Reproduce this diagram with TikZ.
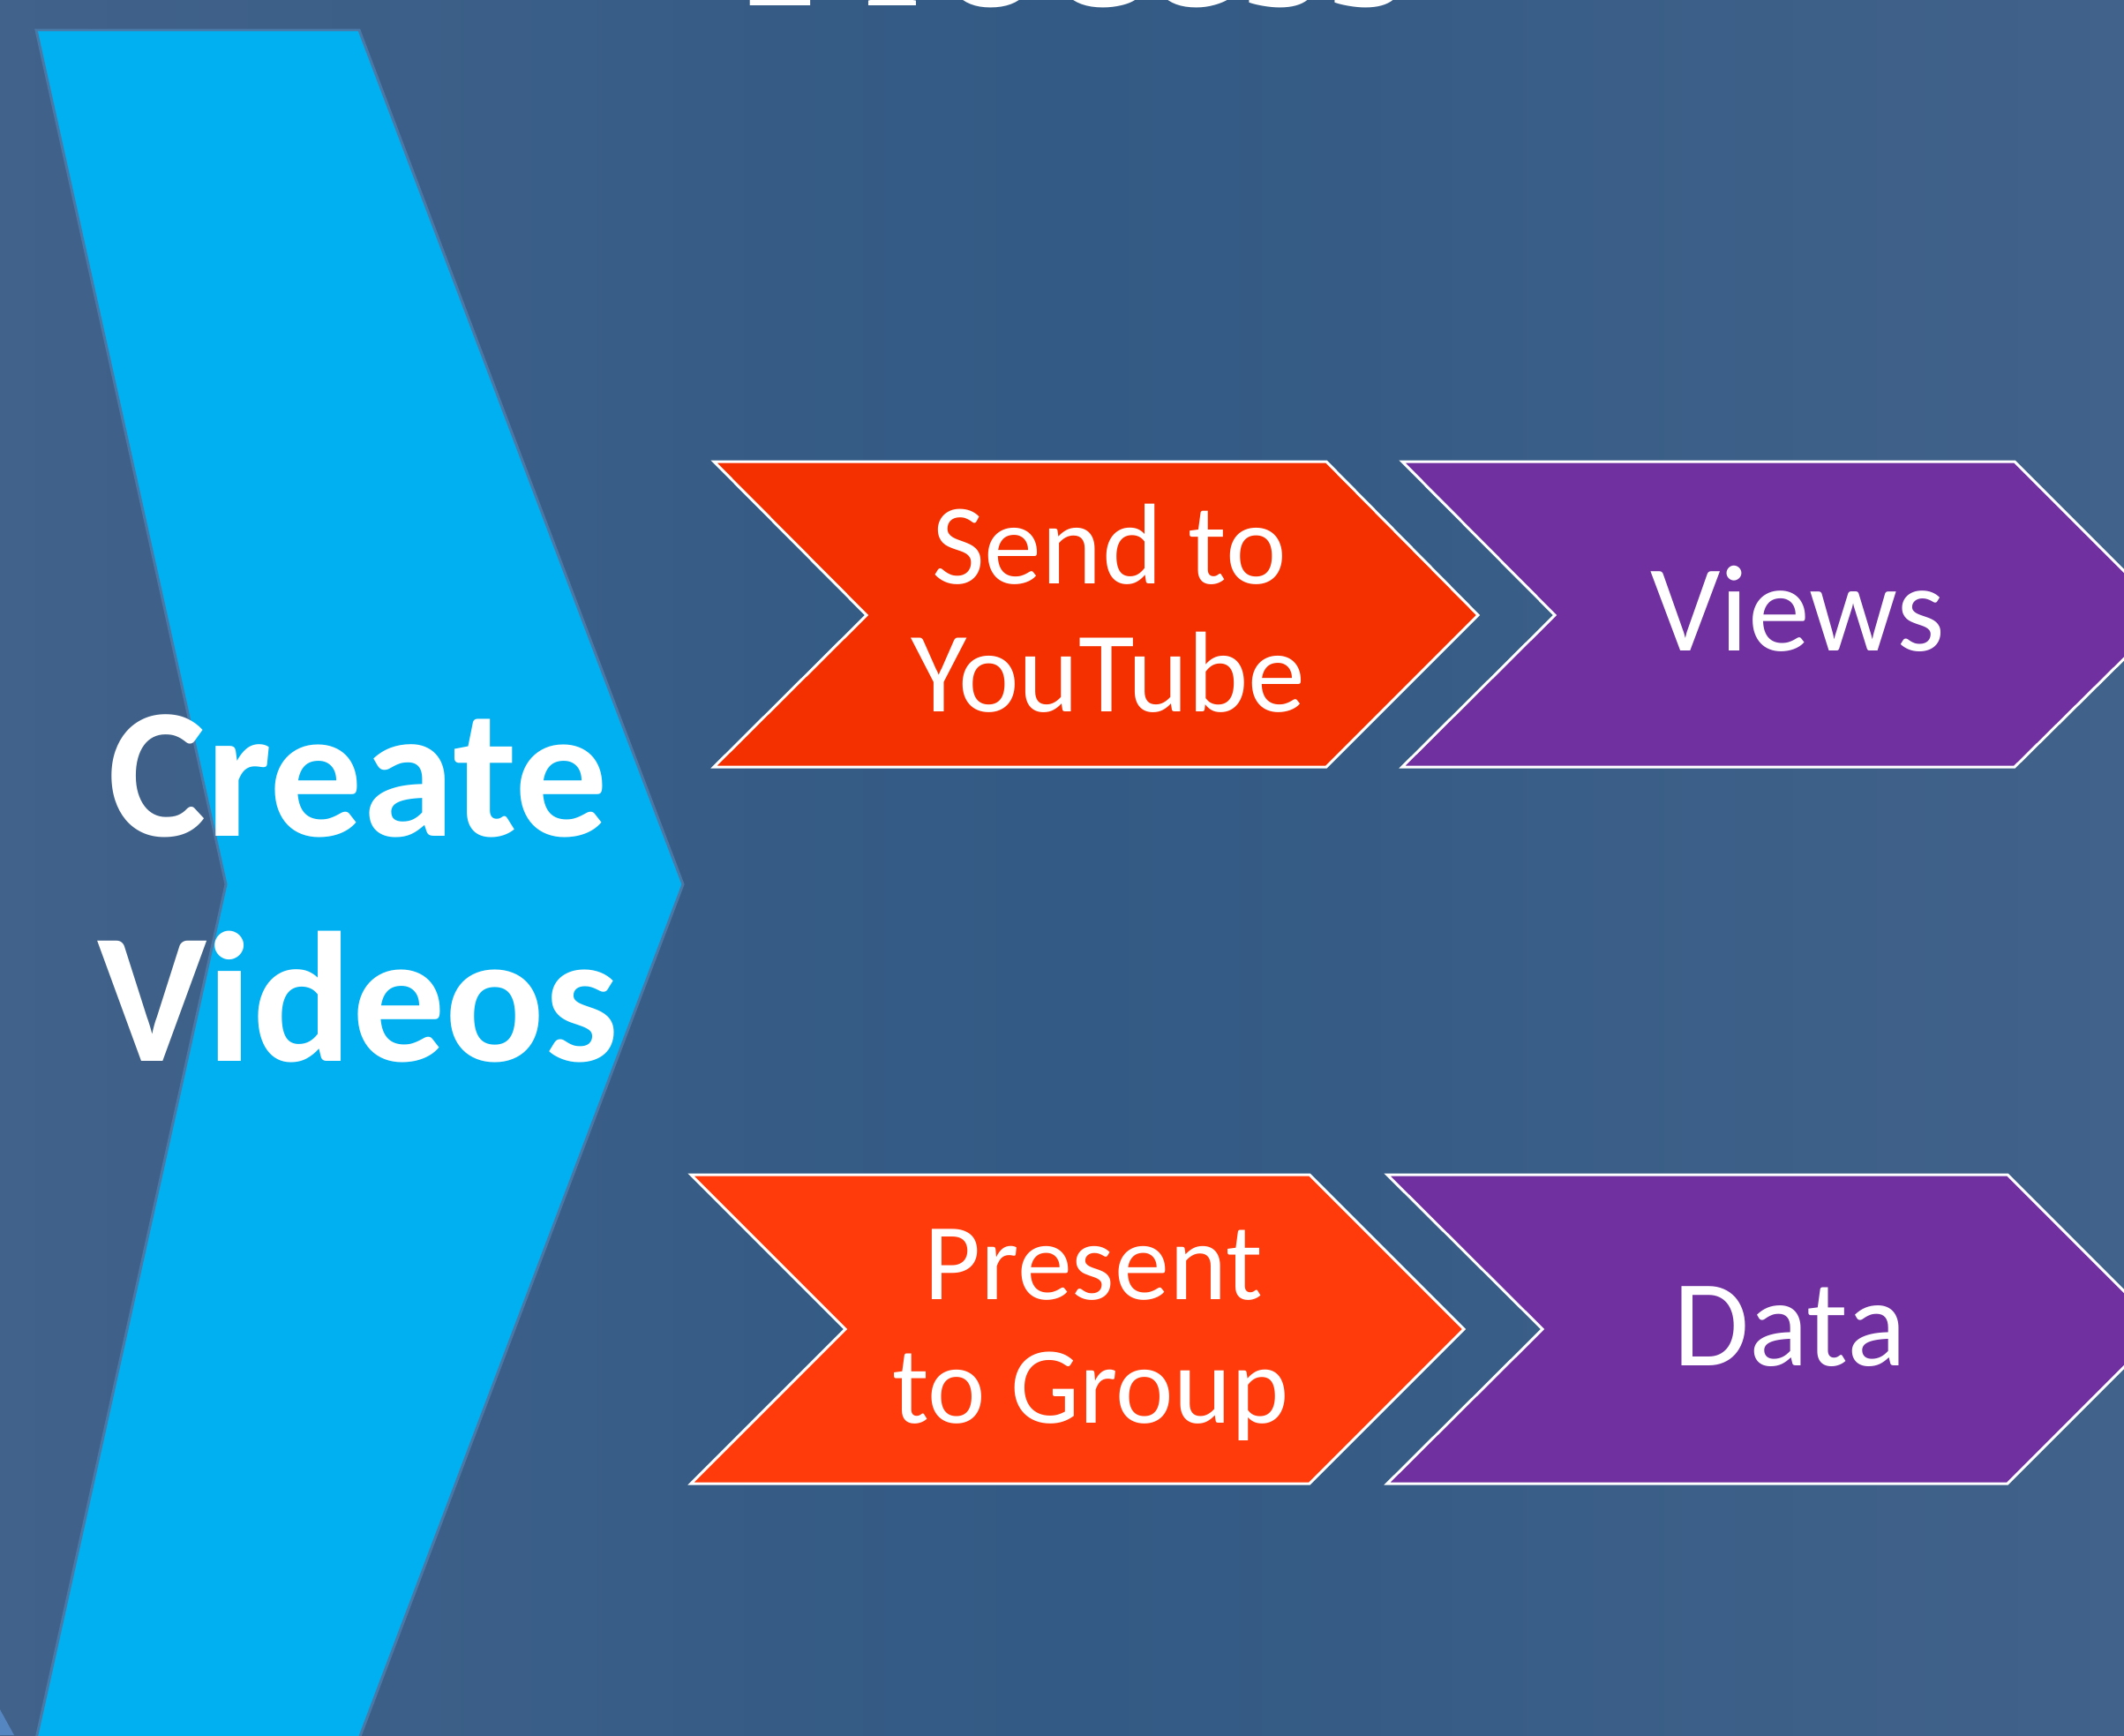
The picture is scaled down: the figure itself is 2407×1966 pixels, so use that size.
\documentclass[tikz,border=0pt]{standalone}
\usepackage{fontspec}
\setmainfont{Carlito}
\newfontfamily\titlefont{Liberation Serif}
\definecolor{bgside}{HTML}{41628A}
\definecolor{bgmid}{HTML}{325A84}
\definecolor{cyanfill}{HTML}{00B0F0}
\definecolor{cyanline}{HTML}{4A79A8}
\definecolor{redA}{HTML}{F53000}
\definecolor{redB}{HTML}{FF3A0B}
\definecolor{purp}{HTML}{7030A0}
\definecolor{lightpiece}{HTML}{5686C2}
\tikzset{
  bigchev/.style={fill=cyanfill, draw=cyanline, line width=0.85pt, line join=miter},
  redchevA/.style={fill=redA, draw=white, line width=0.85pt, line join=miter},
  redchevB/.style={fill=redB, draw=white, line width=0.85pt, line join=miter},
  purpchev/.style={fill=purp, draw=white, line width=0.85pt, line join=miter},
  lbl/.style={text=white, inner sep=0pt, anchor=base},
  smalllbl/.style={lbl, font=\fontsize{37}{41}\selectfont},
  midlbl/.style={lbl, font=\fontsize{39.8}{44}\selectfont},
  presentlbl/.style={lbl, font=\fontsize{35.3}{39}\selectfont},
  biglbl/.style={lbl, font=\fontsize{59.75}{72}\selectfont\bfseries},
  titlelbl/.style={lbl, font=\fontsize{70.5}{82}\selectfont\titlefont}
}
\begin{document}
\begin{tikzpicture}[x=0.01cm,y=-0.01cm]
\useasboundingbox (0,0) rectangle (2407,1966);
\clip (0,0) rectangle (2407,1966);
\shade[left color=bgside, right color=bgside, middle color=bgmid] (0,0) rectangle (2407,1966);
% title (cut off at the top)
\node[titlelbl] (title) at (1220,6) {Process};
% small lighter piece at bottom-left corner
\fill[lightpiece] (0,1937) -- (16,1966) -- (0,1966) -- cycle;
% big chevron
\path[bigchev] (41,34) -- (407,34) -- (774,1002) -- (407,1970) -- (41,1970) -- (256,1002) -- cycle;
\node[biglbl] (create) at (406,947) {Create};
\node[biglbl] (videos) at (406,1202) {Videos};
% top row
\path[redchevA] (809,523) -- (1503,523) -- (1675,697) -- (1503,869) -- (809,869) -- (982,697) -- cycle;
\path[purpchev] (1589,523) -- (2283,523) -- (2457,697) -- (2283,869) -- (1589,869) -- (1762,697) -- cycle;
\node[smalllbl] (send1) at (1257,661) {Send to};
\node[smalllbl] (send2) at (1256,806) {YouTube};
\node[midlbl] (views) at (2037,737) {Views};
% bottom row
\path[redchevB] (783,1331) -- (1484,1331) -- (1659,1506) -- (1484,1681) -- (783,1681) -- (958,1506) -- cycle;
\path[purpchev] (1572,1331) -- (2275,1331) -- (2450,1506) -- (2275,1681) -- (1572,1681) -- (1748,1506) -- cycle;
\node[presentlbl] (pres1) at (1239,1472) {Present};
\node[presentlbl] (pres2) at (1236,1612) {to Group};
\node[midlbl] (data) at (2028,1547) {Data};
\end{tikzpicture}
\end{document}
